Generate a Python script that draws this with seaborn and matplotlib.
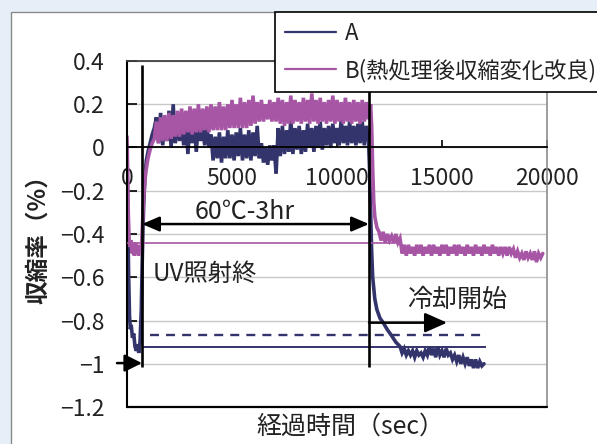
import matplotlib
matplotlib.use("Agg")
import matplotlib.pyplot as plt
import numpy as np
import pandas as pd
import seaborn as sns
from matplotlib.patches import Rectangle
from matplotlib.ticker import FuncFormatter

# ---------------- data ----------------
series_names = ["A", "B(熱処理後収縮変化改良)"]

a_time = [0, 40, 80, 120, 160, 200, 260, 320, 380, 440, 500, 560, 620, 680, 720, 760, 800, 860, 920, 1000, 1100, 1200, 1300,
          1400, 1500, 1600, 1700, 1800, 1900, 2000, 2100, 2200, 2300, 2400, 2500, 2600, 2700, 2800, 2900, 3000, 3100, 3200, 3300,
          3400, 3500, 3600, 3700, 3800, 3900,
          4000, 4100, 4200, 4300, 4400, 4500, 4600, 4700, 4800, 4900, 5000, 5100, 5200, 5300, 5400, 5500, 5600, 5700, 5800, 5900,
          6000, 6100, 6200, 6300,
          6400, 6500, 6600, 6700, 6800, 6900, 7000, 7100,
          7200, 7300, 7400, 7500, 7600, 7700, 7800, 7900, 8000, 8100, 8200, 8300, 8400, 8500, 8600, 8700, 8800, 8900, 9000, 9100,
          9200, 9300, 9400, 9500, 9600, 9700, 9800, 9900, 10000, 10100, 10200, 10300, 10400, 10500, 10600, 10700, 10800, 10900,
          11000, 11100, 11200, 11300, 11400, 11500,
          11550, 11600, 11650, 11700, 11800, 11900, 12050, 12200, 12380, 12600, 12800, 13000,
          13100, 13200, 13300, 13400, 13500, 13600, 13700, 13800, 13900, 14000,
          14100, 14200, 14300, 14400, 14500, 14600, 14700, 14800, 14900, 15000,
          15100, 15200, 15300, 15400, 15500, 15600, 15700, 15800, 15900, 16000,
          16100, 16200, 16300, 16400, 16500, 16600, 16700, 16800, 16900, 17000]
a_val = [-0.05, -0.35, -0.6, -0.78, -0.84, -0.82, -0.88, -0.86, -0.92, -0.94, -0.91, -0.95, -0.9, -0.75, -0.55, -0.38, -0.25,
         -0.13, -0.06, -0.02, 0.02, 0.06, 0.09,
         0.14, 0.02, 0.16, 0.01, 0.13, 0.03, 0.17, 0.00, 0.20, 0.02, 0.14, 0.03, 0.12, 0.01, 0.13, -0.03, 0.12, 0.02, 0.11, -0.02,
         0.12, 0.03, 0.10, 0.01, 0.11, 0.00,
         0.06, -0.06, 0.05, -0.05, 0.07, -0.07, 0.05, -0.05, 0.08, -0.05, 0.06, -0.06, 0.07, -0.04, 0.09, -0.06, 0.06, -0.05, 0.08, -0.06,
         0.07, -0.04, 0.10, -0.05,
         0.02, -0.07, 0.00, -0.08, 0.01, -0.06, 0.01, -0.12,
         0.09, -0.04, 0.10, -0.03, 0.08, -0.02, 0.13, -0.03, 0.09, -0.01, 0.10, -0.03, 0.08, -0.02, 0.11, 0.00, 0.09, -0.02, 0.10, 0.00,
         0.12, -0.01, 0.09, 0.01, 0.10, 0.00, 0.11, 0.02, 0.09, 0.01, 0.13, 0.02, 0.10, 0.01, 0.12, 0.02, 0.10, 0.01,
         0.11, 0.02, 0.12, 0.01, 0.10, 0.03,
         -0.10, -0.30, -0.48, -0.60, -0.70, -0.75, -0.79, -0.81, -0.84, -0.87, -0.90, -0.92,
         -0.95, -0.93, -0.96, -0.94, -0.96, -0.94, -0.97, -0.94, -0.96, -0.95,
         -0.97, -0.94, -0.96, -0.92, -0.96, -0.93, -0.97, -0.92, -0.96, -0.94,
         -0.97, -0.93, -0.96, -0.95, -0.98, -0.96, -0.99, -0.96, -1.00, -0.97,
         -1.00, -0.97, -1.01, -0.98, -1.02, -0.98, -1.02, -0.99, -1.01, -1.00]

b_time = [0, 30, 60, 100, 150, 200, 250, 300, 350, 400, 450, 500, 550, 600, 650, 700, 740, 780, 830, 900, 1000, 1100, 1200, 1300,
          1400, 1500, 1600, 1700, 1800, 1900, 2000, 2100, 2200, 2300, 2400, 2500,
          2600, 2700, 2800, 2900, 3000, 3100, 3200, 3300, 3400, 3500, 3600, 3700, 3800, 3900, 4000, 4100, 4200, 4300, 4400, 4500,
          4600, 4700, 4800, 4900,
          5000, 5100, 5200, 5300, 5400, 5500, 5600, 5700, 5800, 5900,
          6000, 6100, 6200, 6300, 6400, 6500, 6600, 6700, 6800, 6900,
          7000, 7100, 7200, 7300, 7400, 7500, 7600, 7700, 7800, 7900,
          8000, 8100, 8200, 8300, 8400, 8500, 8600, 8700, 8800, 8900,
          9000, 9100, 9200, 9300, 9400, 9500, 9600, 9700, 9800, 9900,
          10000, 10100, 10200, 10300, 10400, 10500, 10600, 10700, 10800, 10900,
          11000, 11100, 11200, 11300, 11400, 11500, 11600,
          11650, 11700, 11750, 11800, 11900, 12000,
          12100, 12200, 12300, 12400, 12500, 12600, 12700, 12800, 12900, 13000,
          13100, 13200, 13300, 13400, 13500, 13600, 13700, 13800, 13900, 14000,
          14100, 14200, 14300, 14400, 14500, 14600, 14700, 14800, 14900, 15000,
          15100, 15200, 15300, 15400, 15500, 15600, 15700, 15800, 15900, 16000,
          16100, 16200, 16300, 16400, 16500, 16600, 16700, 16800, 16900, 17000,
          17100, 17200, 17300, 17400, 17500, 17600, 17700, 17800, 17900, 18000,
          18100, 18200, 18300, 18400,
          18500, 18600, 18700, 18800, 18900, 19000, 19100, 19200, 19300, 19400, 19500, 19600, 19700, 19800]
b_val = [0.05, -0.10, -0.30, -0.42, -0.46, -0.43, -0.49, -0.45, -0.50, -0.44, -0.49, -0.45, -0.50, -0.46, -0.48, -0.44, -0.35,
         -0.26, -0.18, -0.11, -0.05, -0.01, 0.02, 0.04,
         0.12, 0.02, 0.14, 0.03, 0.15, 0.03, 0.16, 0.04, 0.15, 0.05, 0.17, 0.05,
         0.18, 0.06, 0.17, 0.07, 0.19, 0.06, 0.18, 0.07, 0.20, 0.07, 0.18, 0.08, 0.19, 0.07, 0.20, 0.08, 0.19, 0.08, 0.21, 0.08,
         0.19, 0.08, 0.20, 0.09,
         0.22, 0.09, 0.20, 0.09, 0.23, 0.09, 0.21, 0.09, 0.22, 0.10,
         0.24, 0.11, 0.21, 0.12, 0.22, 0.12, 0.20, 0.13, 0.22, 0.12,
         0.21, 0.12, 0.23, 0.11, 0.22, 0.10, 0.21, 0.11, 0.24, 0.11,
         0.22, 0.12, 0.21, 0.11, 0.23, 0.12, 0.22, 0.11, 0.25, 0.12,
         0.22, 0.11, 0.23, 0.12, 0.21, 0.11, 0.22, 0.12, 0.24, 0.11,
         0.22, 0.12, 0.21, 0.11, 0.23, 0.12, 0.21, 0.11, 0.22, 0.12,
         0.21, 0.11, 0.22, 0.12, 0.21, 0.13, 0.20,
         0.10, -0.10, -0.25, -0.32, -0.37, -0.39,
         -0.43, -0.39, -0.44, -0.40, -0.43, -0.41, -0.44, -0.40, -0.44, -0.42,
         -0.49, -0.45, -0.50, -0.45, -0.49, -0.46, -0.50, -0.45, -0.49, -0.45,
         -0.50, -0.46, -0.49, -0.45, -0.50, -0.45, -0.49, -0.46, -0.50, -0.45,
         -0.49, -0.45, -0.50, -0.46, -0.49, -0.45, -0.50, -0.45, -0.49, -0.46,
         -0.50, -0.45, -0.49, -0.46, -0.50, -0.45, -0.49, -0.46, -0.50, -0.45,
         -0.49, -0.46, -0.50, -0.45, -0.49, -0.46, -0.50, -0.46, -0.49, -0.46,
         -0.50, -0.46, -0.49, -0.47,
         -0.51, -0.48, -0.51, -0.49, -0.52, -0.48, -0.51, -0.49, -0.52, -0.48, -0.53, -0.49, -0.51, -0.49]

assert len(a_time) == len(a_val) and len(b_time) == len(b_val)

x_ticks = [0, 5000, 10000, 15000, 20000]
y_ticks = [0.4, 0.2, 0.0, -0.2, -0.4, -0.6, -0.8, -1.0, -1.2]

# annotation values (data space)
uv_end = 714          # UV irradiation end (sec)
cool_start = 11524    # cooling start (sec)
level_b = -0.44
level_a_dash = -0.867
level_a_solid = -0.923

# ---------------- style ----------------
sns.set_theme(style="white")
plt.rcParams["font.family"] = ["Noto Sans CJK JP", "DejaVu Sans"]
plt.rcParams["axes.unicode_minus"] = True

navy = "#34346c"
purple = "#a656a4"
data_lw = 2.6

W, H = 597, 444
fig = plt.figure(figsize=(W / 100, H / 100), dpi=100, facecolor="#e7eef8")
fig.patches.append(Rectangle((11 / W, -0.1), 1.2, 1 - 12 / H + 0.1, transform=fig.transFigure,
                             facecolor="white", edgecolor="#8a8a8a", lw=1.0, zorder=-5))
ax = fig.add_axes([127 / W, 37 / H, 420 / W, 346 / H])
ax.set_zorder(1)
ax.set_facecolor("white")

df_a = pd.DataFrame({"t": a_time, "v": a_val})
df_b = pd.DataFrame({"t": b_time, "v": b_val})
sns.lineplot(data=df_a, x="t", y="v", ax=ax, color=navy, linewidth=data_lw, estimator=None, sort=False,
             label=series_names[0], zorder=2)
sns.lineplot(data=df_b, x="t", y="v", ax=ax, color=purple, linewidth=data_lw, estimator=None, sort=False,
             label=series_names[1], zorder=2.1)
for ln in ax.get_lines():
    ln.set_linewidth(data_lw)
    ln.set_solid_joinstyle("miter")

ax.set_xlim(0, 20000)
ax.set_ylim(-1.2, 0.4)
ax.set_xticks(x_ticks)
ax.set_yticks(y_ticks)
ax.yaxis.set_major_formatter(FuncFormatter(lambda v, p: f"{round(v, 1):g}".replace("-", "\u2212")))
ax.xaxis.set_major_formatter(FuncFormatter(lambda v, p: f"{int(v)}"))

ax.spines["bottom"].set_position(("data", 0))
ax.spines["bottom"].set_color("black")
ax.spines["bottom"].set_linewidth(1.3)
ax.spines["left"].set_color("black")
ax.spines["left"].set_linewidth(1.5)
ax.spines["top"].set_color("#404040")
ax.spines["top"].set_linewidth(1.3)
ax.spines["right"].set_color("#8c8c8c")
ax.spines["right"].set_linewidth(1.2)
ax.axhline(-1.2, color="black", lw=1.6, clip_on=False, zorder=5)

ax.yaxis.grid(True, color="#c8c8c8", lw=1.0)
ax.xaxis.grid(False)
ax.set_axisbelow(True)

ax.tick_params(axis="x", direction="in", length=5, width=1.2, color="black", pad=14, labelsize=16.5,
               bottom=True, labelcolor="#222222")
ax.tick_params(axis="y", direction="in", length=7, width=1.2, color="black", pad=16, labelsize=16.5,
               left=True, labelcolor="#222222")

ax.set_xlabel("経過時間（sec）", fontsize=18, color="#222222")
ax.xaxis.set_label_coords((350 - 127) / 420, (407 - 427) / 346)
ax.xaxis.label.set_va("center")
ax.set_ylabel("収縮率（%）", fontsize=17, fontweight="bold", color="#222222")
ax.yaxis.set_label_coords((38 - 127) / 420, 0.5)
ax.yaxis.label.set_va("center")
ax.yaxis.label.set_rotation_mode("anchor")

# ---------------- annotations ----------------
ax.vlines([uv_end, cool_start], -1.015, 0.38, color="black", lw=1.9, zorder=4)
ax.hlines(level_b, 0, 12900, color=purple, lw=1.2, zorder=3)
ax.hlines(level_a_dash, 1100, 16950, color=navy, lw=1.7, linestyles=(0, (3.8, 3.0)), zorder=3)
ax.hlines(level_a_solid, uv_end, 17100, color=navy, lw=1.4, zorder=3)

arrow_style = dict(color="black", lw=1.8, shrinkA=0, shrinkB=0, mutation_scale=15)
ax.annotate("", xy=(cool_start, -0.354), xytext=(uv_end, -0.354),
            arrowprops=dict(arrowstyle="<|-|>,head_length=0.7,head_width=0.3", **arrow_style), zorder=5)
ax.annotate("", xy=(15240, -0.81), xytext=(cool_start, -0.81),
            arrowprops=dict(arrowstyle="-|>,head_length=0.9,head_width=0.4", **arrow_style), zorder=5)
ax.annotate("", xy=(uv_end, -0.997), xytext=(-476, -0.997), annotation_clip=False,
            arrowprops=dict(arrowstyle="-|>,head_length=0.7,head_width=0.35", **arrow_style), zorder=5)

ax.text(5620, -0.30, "60℃-3hr", ha="center", va="center", fontsize=18, color="#222222")
ax.text(1240, -0.585, "UV照射終", ha="left", va="center", fontsize=17.5, color="#222222")
ax.text(15710, -0.705, "冷却開始", ha="center", va="center", fontsize=18, color="#222222")

# ---------------- legend ----------------
handles, labels = ax.get_legend_handles_labels()
leg = ax.legend(handles, labels, loc="upper left", bbox_to_anchor=(275 / W, 1 - 12 / H),
                bbox_transform=fig.transFigure, frameon=True, fancybox=False, framealpha=1,
                edgecolor="black", fontsize=16, handlelength=2.3, handletextpad=0.4,
                labelspacing=0.6, borderpad=0.45, borderaxespad=0)
for h in leg.get_lines():
    h.set_linewidth(1.6)
leg.get_frame().set_linewidth(1.2)
leg.set_zorder(10)
for t in leg.get_texts():
    t.set_color("#222222")

fig.savefig("out.png", dpi=100, facecolor=fig.get_facecolor())
